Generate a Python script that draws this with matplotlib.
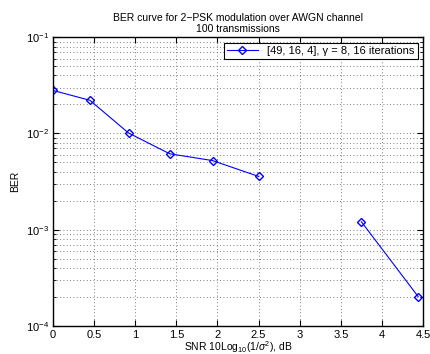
import numpy as np
import matplotlib
matplotlib.use("Agg")
from matplotlib import pyplot as plt
from matplotlib.ticker import LogLocator, NullFormatter

# data (NaN = zero BER, not drawn on log axis)
snr_db = [0, 0.45, 0.92, 1.42, 1.94, 2.5, 3.1, 3.75, 4.44]
ber = [0.028, 0.0221, 0.0101, 0.00615, 0.00523, 0.00358, np.nan, 0.00121, 0.000202]
x_ticks = [0, 0.5, 1, 1.5, 2, 2.5, 3, 3.5, 4, 4.5]
legend_label = "[49, 16, 4], \u03b3 = 8, 16 iterations"

plt.rcParams["font.family"] = ["Liberation Sans", "DejaVu Sans"]
plt.rcParams["mathtext.fontset"] = "custom"
plt.rcParams["mathtext.rm"] = "Liberation Sans"
plt.rcParams["mathtext.it"] = "Liberation Sans:italic"

fig = plt.figure(figsize=(4.3, 3.54), dpi=100)
ax = fig.add_axes([0.123, 0.079, 0.861, 0.816])

ax.semilogy(snr_db, ber, color="blue", marker="D", markersize=4,
            markerfacecolor="none", markeredgewidth=1.0, linewidth=0.8,
            label=legend_label)

ax.set_xlim(0, 4.5)
ax.set_ylim(1e-4, 1e-1)
ax.set_xticks(x_ticks)
ax.set_xticklabels([("%g" % t) for t in x_ticks])
ax.yaxis.set_minor_locator(LogLocator(base=10, subs=np.arange(2, 10)))
ax.yaxis.set_minor_formatter(NullFormatter())

#dotted grid, minor lines only on the log axis
ax.grid(True, which="major", linestyle=(0, (1, 3)), color="#555555", linewidth=0.6)
ax.grid(True, which="minor", axis="y", linestyle=(0, (1, 3)), color="#555555", linewidth=0.6)

ax.tick_params(which="both", direction="in", top=True, right=True, labelsize=8, pad=3)
ax.tick_params(which="major", length=4)
ax.tick_params(which="minor", length=2)
for s in ax.spines.values():
    s.set_linewidth(1.0)

ax.set_title("BER curve for 2\u2212PSK modulation over AWGN channel\n100 transmissions",
             fontsize=7.5, pad=4, linespacing=1.1)
ax.set_xlabel(r"SNR 10Log$_{10}$(1/$\sigma^2$), dB", fontsize=7.5, labelpad=-1)
ax.set_ylabel("BER", fontsize=7.5, labelpad=4)

leg = ax.legend(loc="upper right", fontsize=8, fancybox=False, framealpha=1,
                edgecolor="black", borderaxespad=0.5, handlelength=2.8,
                borderpad=0.3)
leg.get_frame().set_linewidth(0.8)

fig.savefig("out.png", dpi=100)
